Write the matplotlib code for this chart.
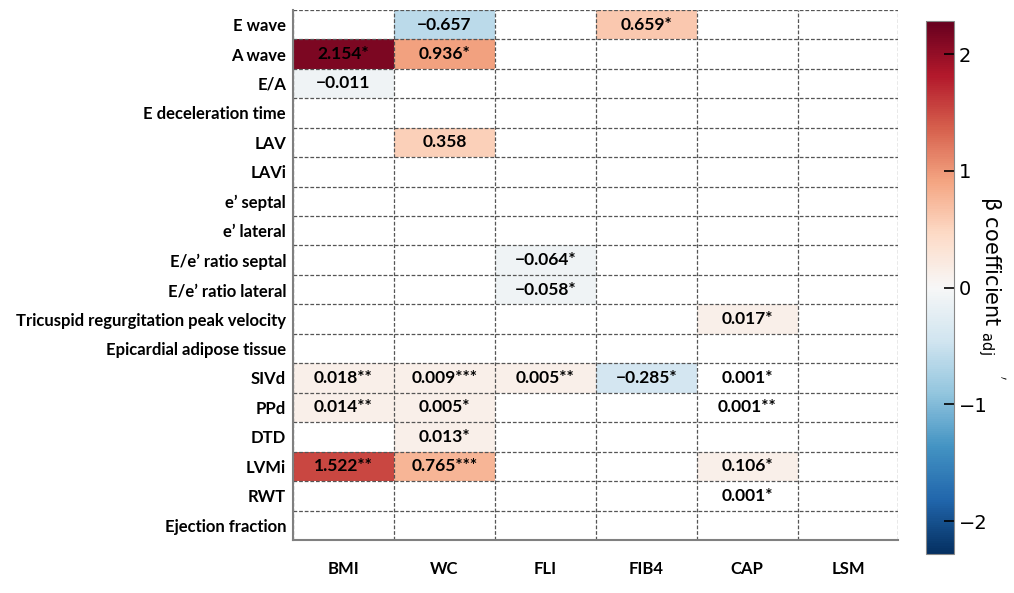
import matplotlib
matplotlib.use("Agg")
import matplotlib.pyplot as plt
import numpy as np

nan = np.nan

rows = ["E wave", "A wave", "E/A", "E deceleration time", "LAV", "LAVi",
        "e\u2019 septal", "e\u2019 lateral", "E/e\u2019 ratio septal",
        "E/e\u2019 ratio lateral", "Tricuspid regurgitation peak velocity",
        "Epicardial adipose tissue", "SIVd", "PPd", "DTD", "LVMi", "RWT",
        "Ejection fraction"]
cols = ["BMI", "WC", "FLI", "FIB4", "CAP", "LSM"]

# adjusted beta coefficients printed in the cells
beta = np.array([
    [nan, -0.657, nan, 0.659, nan, nan],
    [2.154, 0.936, nan, nan, nan, nan],
    [-0.011, nan, nan, nan, nan, nan],
    [nan, nan, nan, nan, nan, nan],
    [nan, 0.358, nan, nan, nan, nan],
    [nan, nan, nan, nan, nan, nan],
    [nan, nan, nan, nan, nan, nan],
    [nan, nan, nan, nan, nan, nan],
    [nan, nan, -0.064, nan, nan, nan],
    [nan, nan, -0.058, nan, nan, nan],
    [nan, nan, nan, nan, 0.017, nan],
    [nan, nan, nan, nan, nan, nan],
    [0.018, 0.009, 0.005, -0.285, 0.001, nan],
    [0.014, 0.005, nan, nan, 0.001, nan],
    [nan, 0.013, nan, nan, nan, nan],
    [1.522, 0.765, nan, nan, 0.106, nan],
    [nan, nan, nan, nan, 0.001, nan],
    [nan, nan, nan, nan, nan, nan],
])

# significance marks
stars = [
    ["", "", "", "*", "", ""],
    ["*", "*", "", "", "", ""],
    ["", "", "", "", "", ""],
    ["", "", "", "", "", ""],
    ["", "", "", "", "", ""],
    ["", "", "", "", "", ""],
    ["", "", "", "", "", ""],
    ["", "", "", "", "", ""],
    ["", "", "*", "", "", ""],
    ["", "", "*", "", "", ""],
    ["", "", "", "", "*", ""],
    ["", "", "", "", "", ""],
    ["**", "***", "**", "*", "*", ""],
    ["**", "*", "", "", "**", ""],
    ["", "*", "", "", "", ""],
    ["**", "***", "", "", "*", ""],
    ["", "", "", "", "*", ""],
    ["", "", "", "", "", ""],
]

# cell shading (colour scale value, nan = white)
shade = np.array([
    [nan, -0.62, nan, 0.62, nan, nan],
    [2.15, 0.94, nan, nan, nan, nan],
    [-0.09, nan, nan, nan, nan, nan],
    [nan, nan, nan, nan, nan, nan],
    [nan, 0.55, nan, nan, nan, nan],
    [nan, nan, nan, nan, nan, nan],
    [nan, nan, nan, nan, nan, nan],
    [nan, nan, nan, nan, nan, nan],
    [nan, nan, -0.09, nan, nan, nan],
    [nan, nan, -0.09, nan, nan, nan],
    [nan, nan, nan, nan, 0.14, nan],
    [nan, nan, nan, nan, nan, nan],
    [0.14, 0.14, 0.14, -0.42, nan, nan],
    [0.14, 0.14, nan, nan, nan, nan],
    [nan, 0.14, nan, nan, nan, nan],
    [1.52, 0.77, nan, nan, 0.14, nan],
    [nan, nan, nan, nan, nan, nan],
    [nan, nan, nan, nan, nan, nan],
])

vlim = 2.28
label_font = "Lato"

fig = plt.figure(figsize=(10.14, 5.93), dpi=100)
ax = fig.add_axes([0.289, 0.0894, 0.597, 0.894])
cax = fig.add_axes([0.9135, 0.066, 0.0275, 0.898])

mesh = ax.pcolormesh(np.ma.masked_invalid(shade), cmap="RdBu_r",
                     vmin=-vlim, vmax=vlim)
ax.set_facecolor("white")
ax.set_xlim(0, len(cols))
ax.set_ylim(len(rows), 0)

for i in range(len(rows)):
    for j in range(len(cols)):
        v = beta[i, j]
        if np.isnan(v):
            continue
        txt = f"{v:.3f}".replace("-", "\u2212") + stars[i][j]
        ax.text(j + 0.5, i + 0.5, txt, ha="center", va="center",
                fontsize=12.5, fontweight="bold", family=label_font, color="black")

ax.set_xticks(np.arange(len(cols)) + 0.5)
ax.set_xticklabels(cols, fontsize=12, fontweight="bold", family=label_font)
ax.set_yticks(np.arange(len(rows)) + 0.5)
ax.set_yticklabels(rows, fontsize=12, fontweight="bold", family=label_font)
ax.tick_params(axis="both", length=0)
ax.tick_params(axis="x", pad=15)
ax.tick_params(axis="y", pad=5)

ax.set_xticks(np.arange(len(cols) + 1), minor=True)
ax.set_yticks(np.arange(len(rows) + 1), minor=True)
ax.tick_params(which="minor", length=0)
ax.grid(which="minor", color="#555555", linestyle=(0, (3, 1.5)), linewidth=0.9)
ax.grid(which="major", visible=False)

for side in ["top", "right"]:
    ax.spines[side].set_visible(False)
for side in ["left", "bottom"]:
    ax.spines[side].set_color("#808080")
    ax.spines[side].set_linewidth(1.5)

cb = fig.colorbar(mesh, cax=cax)
cb.set_ticks([-2, -1, 0, 1, 2])
cb.ax.tick_params(direction="in", length=7, labelsize=14, width=1.2)
cb.outline.set_edgecolor("#888888")
cb.set_label(r"β coefficient $_{\mathrm{adj}}$   $^{'}$", rotation=270,
             fontsize=15, labelpad=14)

fig.savefig("out.png", dpi=100)
